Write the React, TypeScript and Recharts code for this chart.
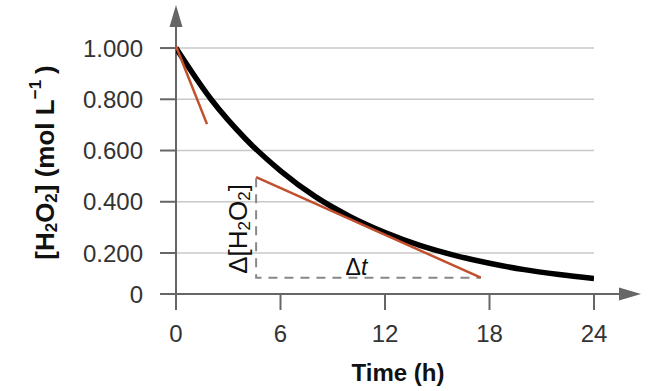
import React from "react";
import {
  ComposedChart,
  Line,
  XAxis,
  YAxis,
  CartesianGrid,
  ReferenceLine,
  ReferenceDot,
  Label,
} from "recharts";

// Time (h) and [H2O2] (mol/L)
const times = [0, 2, 4, 6, 8, 10, 12, 14, 16, 18, 20, 22, 24];
const concentration = [1.0, 0.801, 0.645, 0.521, 0.42, 0.342, 0.28, 0.23, 0.191, 0.16, 0.135, 0.116, 0.1];

// Initial-rate tangent (red, short)
const tangentInitialT = [0, 1.78];
const tangentInitialC = [1.008, 0.703];

// Tangent used for average rate (red, long)
const tangentT = [4.6, 17.5];
const tangentC = [0.496, 0.104];

// Dashed Δ[H2O2] / Δt guide
const guideT = [4.6, 4.6, 17.5];
const guideC = [0.492, 0.103, 0.103];

// Axis ticks
const xTicks = [0, 6, 12, 18, 24];
const yFloor = 0.04; // level where the drawn time axis sits (labelled "0")
const yTicks = [yFloor, 0.2, 0.4, 0.6, 0.8, 1.0];
const gridValues = [0.2, 0.4, 0.6, 0.8, 1.0];
const yTop = 1.168;
const xLeftExt = -0.92;
const xArrowEnd = 26.7;

const curveData = times.map((t, i) => ({ t, c: concentration[i] }));
const tan1Data = tangentInitialT.map((t, i) => ({ t, c: tangentInitialC[i] }));
const tan2Data = tangentT.map((t, i) => ({ t, c: tangentC[i] }));
const guideData = guideT.map((t, i) => ({ t, c: guideC[i] }));

const FONT = "'Liberation Sans', Arial, Helvetica, sans-serif";
const AXIS_COLOR = "#666666";
const RED = "#c1502e";

const ArrowAxis = (props: any) => {
  const { x1, y1, x2, y2 } = props;
  const dx = x2 - x1;
  const dy = y2 - y1;
  const len = Math.sqrt(dx * dx + dy * dy) || 1;
  const ux = dx / len;
  const uy = dy / len;
  const headLen = 22;
  const half = 6.5;
  const bx = x2 - ux * headLen;
  const by = y2 - uy * headLen;
  const px = -uy;
  const py = ux;
  const pts = `${x2},${y2} ${bx + px * half},${by + py * half} ${bx - px * half},${by - py * half}`;
  return (
    <g>
      <line x1={x1} y1={y1} x2={bx} y2={by} stroke={AXIS_COLOR} strokeWidth={2} />
      <polygon points={pts} fill={AXIS_COLOR} />
    </g>
  );
};

const YTitle = (props: any) => {
  const vb = props.viewBox || { x: 0, y: 0, width: 0, height: 0 };
  const cx = vb.x + 45;
  const cy = vb.y + vb.height / 2 + 13;
  return (
    <text
      x={cx}
      y={cy}
      transform={`rotate(-90, ${cx}, ${cy})`}
      textAnchor="middle"
      dominantBaseline="central"
      fontFamily={FONT}
      fontWeight="bold"
      fontSize={26}
      fill="#111"
    >
      [H<tspan dy={6} fontSize={17}>2</tspan>
      <tspan dy={-6}>O</tspan>
      <tspan dy={6} fontSize={17}>2</tspan>
      <tspan dy={-6}>] (mol L</tspan>
      <tspan dy={-10} fontSize={17}>−1</tspan>
      <tspan dy={10} dx={6}>)</tspan>
    </text>
  );
};

const XTitle = (props: any) => {
  const vb = props.viewBox || { x: 0, y: 0, width: 0, height: 0 };
  return (
    <text
      x={vb.x + vb.width / 2 + 13}
      y={vb.y + 87}
      textAnchor="middle"
      fontFamily={FONT}
      fontWeight="bold"
      fontSize={24}
      fill="#111"
    >
      Time (h)
    </text>
  );
};

const DeltaConc = (props: any) => {
  const { cx, cy } = props;
  return (
    <text
      x={cx}
      y={cy}
      transform={`rotate(-90, ${cx}, ${cy})`}
      textAnchor="middle"
      dominantBaseline="central"
      fontFamily={FONT}
      fontSize={26}
      fill="#111"
    >
      Δ[H<tspan dy={6} fontSize={17}>2</tspan>
      <tspan dy={-6}>O</tspan>
      <tspan dy={6} fontSize={17}>2</tspan>
      <tspan dy={-6}>]</tspan>
    </text>
  );
};

const DeltaT = (props: any) => {
  const { cx, cy } = props;
  return (
    <text
      x={cx}
      y={cy}
      textAnchor="middle"
      dominantBaseline="central"
      fontFamily={FONT}
      fontSize={23}
      fill="#111"
    >
      Δ<tspan fontStyle="italic">t</tspan>
    </text>
  );
};

export default function App() {
  return (
    <div style={{ position: "absolute", left: 0, top: 0, background: "#fff" }}>
      <ComposedChart
        width={650}
        height={391}
        margin={{ top: 5, right: 56, bottom: 0, left: 0 }}
      >
        <CartesianGrid
          horizontal
          vertical={false}
          horizontalValues={gridValues}
          stroke="#c8c8c8"
          strokeWidth={1.5}
        />
        <XAxis
          dataKey="t"
          type="number"
          domain={[0, 24]}
          ticks={xTicks}
          height={97}
          axisLine={false}
          tickLine={{ stroke: AXIS_COLOR, strokeWidth: 2 }}
          tickSize={16}
          tickMargin={15}
          tick={{ fontFamily: FONT, fontSize: 24, fill: "#333" }}
          allowDataOverflow
        >
          <Label content={<XTitle />} position="bottom" />
        </XAxis>
        <YAxis
          type="number"
          domain={[yFloor, yTop]}
          ticks={yTicks}
          width={176}
          axisLine={false}
          tickLine={{ stroke: AXIS_COLOR, strokeWidth: 2 }}
          tickSize={16}
          tickMargin={17}
          tick={{ fontFamily: FONT, fontSize: 24, fill: "#333" }}
          tickFormatter={(v: number) => (v === yFloor ? "0" : v.toFixed(3))}
          allowDataOverflow
        >
          <Label content={<YTitle />} position="left" />
        </YAxis>

        <ReferenceLine
          segment={[
            { x: xLeftExt, y: yFloor },
            { x: xArrowEnd, y: yFloor },
          ]}
          ifOverflow="visible"
          shape={<ArrowAxis />}
        />
        <ReferenceLine
          segment={[
            { x: 0, y: yFloor },
            { x: 0, y: yTop },
          ]}
          ifOverflow="visible"
          shape={<ArrowAxis />}
        />

        <Line
          data={guideData}
          dataKey="c"
          type="linear"
          stroke="#888"
          strokeWidth={2}
          strokeDasharray="9 7"
          dot={false}
          isAnimationActive={false}
        />
        <Line
          data={curveData}
          dataKey="c"
          type="monotone"
          stroke="#000"
          strokeWidth={5.5}
          dot={false}
          isAnimationActive={false}
        />
        <Line
          data={tan1Data}
          dataKey="c"
          type="linear"
          stroke={RED}
          strokeWidth={2.5}
          dot={false}
          isAnimationActive={false}
        />
        <Line
          data={tan2Data}
          dataKey="c"
          type="linear"
          stroke={RED}
          strokeWidth={2.5}
          dot={false}
          isAnimationActive={false}
        />

        <ReferenceDot x={3.57} y={0.294} r={0} ifOverflow="visible" shape={<DeltaConc />} />
        <ReferenceDot x={10.36} y={0.146} r={0} ifOverflow="visible" shape={<DeltaT />} />
      </ComposedChart>
    </div>
  );
}
